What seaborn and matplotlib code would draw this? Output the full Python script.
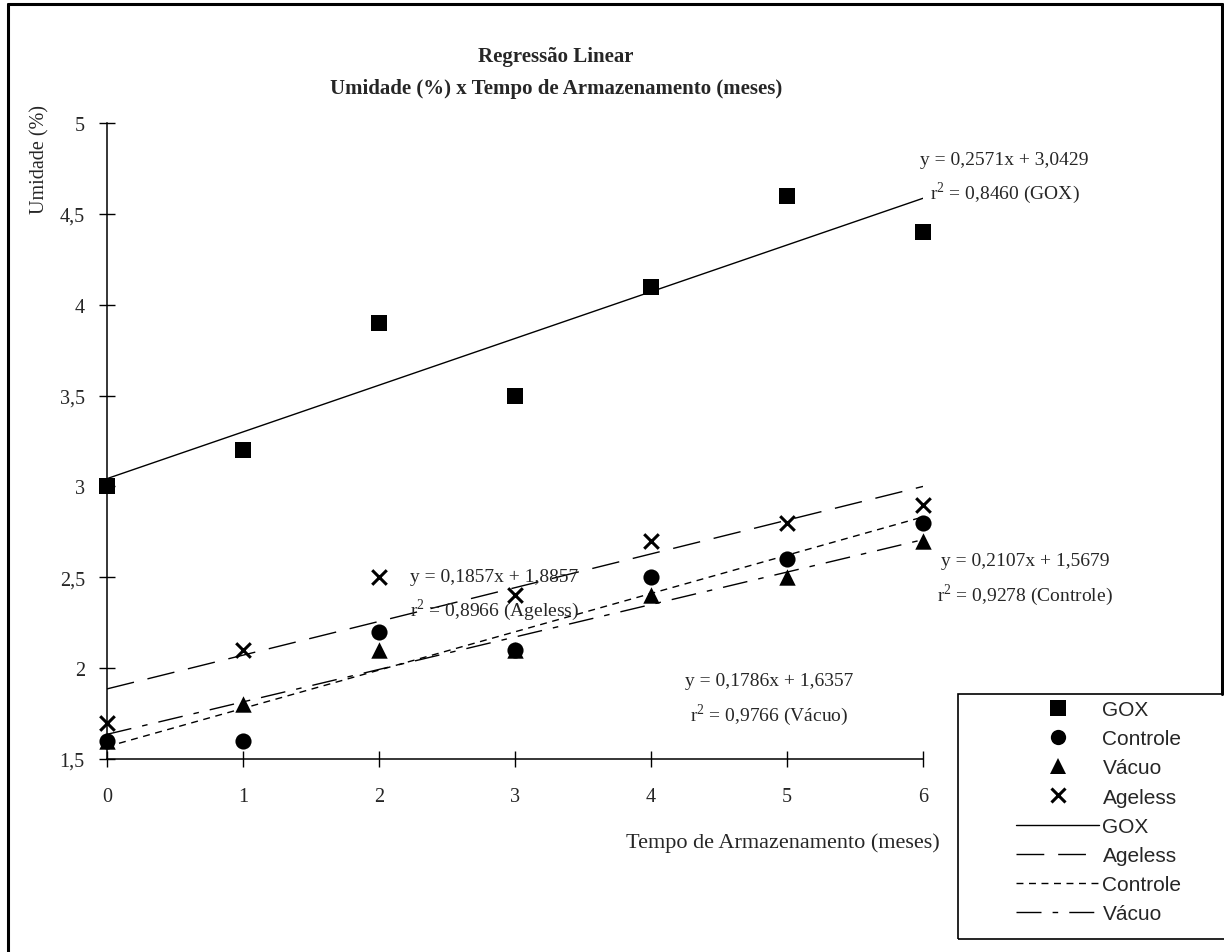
import matplotlib
matplotlib.use('Agg')
import matplotlib.pyplot as plt
from matplotlib.lines import Line2D
from matplotlib.patches import Rectangle
import seaborn as sns
import numpy as np
import pandas as pd

# tempo de armazenamento (meses)
meses = [0, 1, 2, 3, 4, 5, 6]

# umidade (%) de cada tratamento
gox = [3.0, 3.2, 3.9, 3.5, 4.1, 4.6, 4.4]
controle = [1.6, 1.6, 2.2, 2.1, 2.5, 2.6, 2.8]
vacuo = [1.6, 1.8, 2.1, 2.1, 2.4, 2.5, 2.7]
ageless = [1.7, 2.1, 2.5, 2.4, 2.7, 2.8, 2.9]

grupos = ['GOX', 'Controle', 'Vácuo', 'Ageless']
ordem_linhas = ['GOX', 'Ageless', 'Controle', 'Vácuo']
eq_textos = {
    'GOX': ('y = 0,2571x + 3,0429', 'r$^2$ = 0,8460 (GOX)'),
    'Ageless': ('y = 0,1857x + 1,8857', 'r$^2$ = 0,8966 (Ageless)'),
    'Controle': ('y = 0,2107x + 1,5679', 'r$^2$ = 0,9278 (Controle)'),
    'Vácuo': ('y = 0,1786x + 1,6357', 'r$^2$ = 0,9766 (Vácuo)'),
}

df = pd.DataFrame({
    'Tempo': meses * 4,
    'Umidade': gox + controle + vacuo + ageless,
    'Grupo': sum([[g] * len(meses) for g in grupos], []),
})

sns.set_style('ticks')
plt.rcParams['font.family'] = ['Liberation Serif', 'DejaVu Serif']
plt.rcParams['mathtext.fontset'] = 'custom'
plt.rcParams['mathtext.rm'] = 'Liberation Serif'

fig = plt.figure(figsize=(12.24, 9.53), dpi=100)
ax = fig.add_axes([107 / 1224, 1 - 760 / 953, 816 / 1224, 636 / 953])

# estilo de marcador e linha por grupo
marcadores = {'GOX': ('s', 120), 'Controle': ('o', 135), 'Vácuo': ('^', 140), 'Ageless': ('x', 110)}
tracos = {'GOX': None, 'Ageless': (20, 10), 'Controle': (5, 4), 'Vácuo': (18, 8, 4, 8)}

# retas de regressão
for g in ordem_linhas:
    sub = df[df['Grupo'] == g]
    kws = dict(color='black', lw=1.0)
    if tracos[g] is not None:
        kws['dashes'] = tracos[g]
    sns.regplot(data=sub, x='Tempo', y='Umidade', scatter=False, ci=None,
                truncate=True, line_kws=kws, ax=ax)

# pontos
for g in grupos:
    sub = df[df['Grupo'] == g]
    m, s = marcadores[g]
    if m == 'x':
        sns.scatterplot(data=sub, x='Tempo', y='Umidade', marker='x', s=s,
                        color='black', linewidth=2.2, ax=ax, zorder=5, clip_on=False)
    else:
        sns.scatterplot(data=sub, x='Tempo', y='Umidade', marker=m, s=s,
                        color='black', edgecolor='black', linewidth=0, ax=ax,
                        zorder=5, clip_on=False)

ax.set_xlim(0, 6)
ax.set_ylim(1.5, 5)
ax.set_xticks(meses)
yt = [1.5, 2, 2.5, 3, 3.5, 4, 4.5, 5]
ax.set_yticks(yt)
ax.set_yticklabels([f'{v:g}'.replace('.', ',') for v in yt])
ax.tick_params(direction='inout', length=12, width=1, labelsize=14.5, color='black', pad=10)
ax.tick_params(axis='x', pad=14)
sns.despine(ax=ax)
for sp in ['left', 'bottom']:
    ax.spines[sp].set_linewidth(1.1)
    ax.spines[sp].set_color('black')
ax.set_xlabel('')
ax.set_ylabel('')

# equações
fs = 14
ax.text(6.60, 4.80, eq_textos['GOX'][0], ha='center', va='center', fontsize=fs)
ax.text(6.60, 4.62, eq_textos['GOX'][1], ha='center', va='center', fontsize=fs)
ax.text(2.85, 2.505, eq_textos['Ageless'][0], ha='center', va='center', fontsize=fs)
ax.text(2.85, 2.325, eq_textos['Ageless'][1], ha='center', va='center', fontsize=fs)
ax.text(6.13, 2.595, eq_textos['Controle'][0], ha='left', va='center', fontsize=fs)
ax.text(6.10, 2.405, eq_textos['Controle'][1], ha='left', va='center', fontsize=fs)
ax.text(4.87, 1.93, eq_textos['Vácuo'][0], ha='center', va='center', fontsize=fs)
ax.text(4.87, 1.745, eq_textos['Vácuo'][1], ha='center', va='center', fontsize=fs)

# títulos e rótulos
fig.text(556 / 1224, 1 - 57 / 953, 'Regressão Linear', ha='center', va='center',
         fontsize=15, fontweight='bold')
fig.text(556 / 1224, 1 - 89 / 953, 'Umidade (%) x Tempo de Armazenamento (meses)',
         ha='center', va='center', fontsize=15, fontweight='bold')
fig.text(40 / 1224, 1 - 160 / 953, 'Umidade (%)', rotation=90, ha='center',
         va='center', fontsize=14.5)
fig.text(940 / 1224, 1 - 843 / 953, 'Tempo de Armazenamento (meses)', ha='right',
         va='center', fontsize=16)

# legenda
handles = []
for g in grupos:
    m, s = marcadores[g]
    handles.append(Line2D([], [], ls='none', marker=m, color='black',
                          markersize=11 if m != 'x' else 10,
                          markeredgewidth=0 if m != 'x' else 2.2))
for g in ordem_linhas:
    h = Line2D([], [], color='black', lw=1.0)
    if tracos[g] is not None:
        h.set_dashes(tracos[g])
    handles.append(h)
labels = grupos + ordem_linhas
leg = fig.legend(handles, labels, loc='upper left', bbox_to_anchor=(1016 / 1224, 1 - 701 / 953),
                 frameon=False, prop={'family': 'Liberation Sans', 'size': 15},
                 handlelength=4.0, handletextpad=0.15, labelspacing=0.49,
                 borderpad=0, borderaxespad=0)

# caixa da legenda e moldura da figura
fig.add_artist(Rectangle((958 / 1224, 1 - 940 / 953), 300 / 1224, 245 / 953,
                         fill=False, edgecolor='black', lw=1.2,
                         transform=fig.transFigure))
for xs, ys in [([8 / 1224, 8 / 1224], [0, 1 - 5 / 953]),
               ([8 / 1224, 1222 / 1224], [1 - 5 / 953, 1 - 5 / 953]),
               ([1222 / 1224, 1222 / 1224], [1 - 5 / 953, 1 - 695 / 953])]:
    fig.add_artist(Line2D(xs, ys, color='black', lw=2.2, transform=fig.transFigure))

fig.savefig('out.png', dpi=100)
